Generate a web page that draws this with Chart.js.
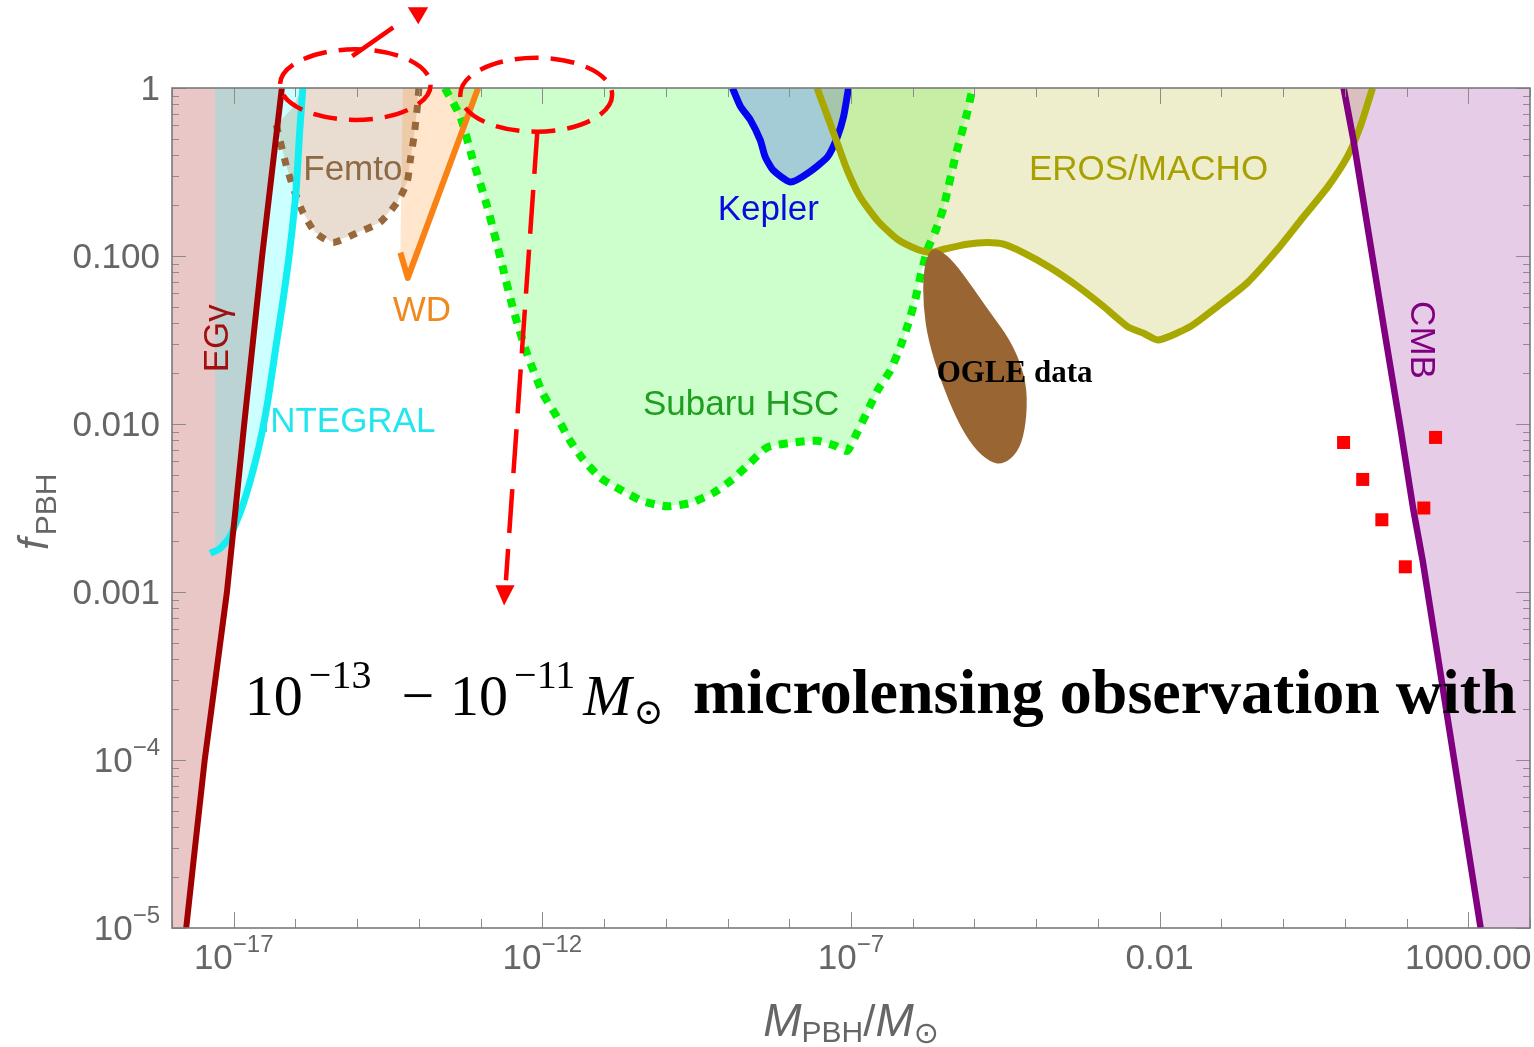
<!DOCTYPE html>
<html>
<head>
<meta charset="utf-8">
<script src="https://cdn.jsdelivr.net/npm/chart.js@4.4.1/dist/chart.umd.min.js"></script>
<style>
  html, body { margin: 0; padding: 0; background: #fff; overflow: hidden; }
  #wrap { width: 1534px; height: 1047px; }
  canvas { display: block; }
</style>
</head>
<body>
<div id="wrap"><canvas id="chart" width="1534" height="1047"></canvas></div>
<script>
// Points are [log10(M/Msun), log10(f_PBH)]
const egammaEdge = [[-17.77, -5], [-17.47, -4], [-17.11, -3], [-16.83, -2], [-16.54, -1], [-16.22, 0]];
const egammaCorners = [[-18, 0], [-18, -5]];

const integralEdge = [[-17.38, -2.77], [-17.22, -2.74], [-17.06, -2.67], [-16.85, -2.48], [-16.62, -2.18],
  [-16.46, -1.89], [-16.30, -1.50], [-16.20, -1.26], [-16.09, -0.96], [-15.99, -0.61], [-15.93, -0.25], [-15.88, 0]];
const integralCorners = [[-17.30, 0], [-17.30, -2.75]];

const femtoEdge = [[-16.31, -0.22], [-16.15, -0.46], [-16.04, -0.59], [-15.88, -0.74], [-15.68, -0.86], [-15.39, -0.92],
  [-14.99, -0.86], [-14.63, -0.80], [-14.35, -0.68], [-14.19, -0.56], [-14.14, -0.43], [-14.08, -0.29], [-14.03, -0.13], [-14.00, 0]];
const femtoCorners = [[-15.90, 0], [-16.05, -0.12]];

const wdEdge = [[-14.30, -0.98], [-14.18, -1.13], [-13.04, 0]];
const wdCorners = [[-14.26, 0]];

const subaruEdge = [[-13.58, 0], [-13.33, -0.17], [-13.14, -0.41], [-12.89, -0.71], [-12.64, -1.07], [-12.47, -1.32],
  [-12.25, -1.58], [-11.99, -1.82], [-11.76, -1.96], [-11.55, -2.10], [-11.34, -2.21], [-11.06, -2.32], [-10.74, -2.39],
  [-10.37, -2.46], [-9.98, -2.49], [-9.60, -2.47], [-9.23, -2.41], [-8.92, -2.33], [-8.63, -2.23], [-8.36, -2.14],
  [-7.94, -2.11], [-7.55, -2.10], [-7.25, -2.13], [-7.06, -2.16], [-6.90, -2.05], [-6.74, -1.93], [-6.57, -1.80],
  [-6.36, -1.68], [-6.20, -1.54], [-6.07, -1.40], [-5.96, -1.26], [-5.88, -1.13], [-5.76, -0.96], [-5.63, -0.85],
  [-5.50, -0.71], [-5.31, -0.41], [-5.12, -0.15], [-5.03, 0]];

const keplerEdge = [[-8.92, 0], [-8.79, -0.11], [-8.63, -0.19], [-8.47, -0.31], [-8.39, -0.41], [-8.26, -0.49],
  [-7.98, -0.56], [-7.71, -0.51], [-7.38, -0.41], [-7.22, -0.29], [-7.12, -0.17], [-7.04, 0]];

const erosEdge = [[-7.55, 0], [-7.38, -0.17], [-7.22, -0.33], [-7.06, -0.49], [-6.85, -0.65], [-6.57, -0.79],
  [-6.25, -0.90], [-5.93, -0.96], [-5.71, -0.98], [-5.50, -0.96], [-5.12, -0.93], [-4.79, -0.92], [-4.53, -0.93],
  [-4.21, -0.98], [-3.77, -1.07], [-3.33, -1.18], [-2.91, -1.30], [-2.52, -1.42], [-2.26, -1.46], [-2.02, -1.50],
  [-1.50, -1.42], [-1.06, -1.30], [-0.58, -1.16], [-0.09, -0.96], [0.28, -0.79], [0.72, -0.59], [1.04, -0.41],
  [1.25, -0.23], [1.45, 0]];

const ogleOutline = [[-5.63, -0.95], [-5.39, -1.01], [-5.12, -1.14], [-4.74, -1.34], [-4.42, -1.50], [-4.21, -1.68],
  [-4.14, -1.84], [-4.18, -2.04], [-4.30, -2.17], [-4.53, -2.24], [-4.74, -2.23], [-5.02, -2.14], [-5.28, -1.98],
  [-5.55, -1.74], [-5.75, -1.50], [-5.83, -1.30], [-5.83, -1.10], [-5.75, -0.98]];

const cmbEdge = [[0.98, 0], [1.14, -0.31], [1.37, -0.83], [1.63, -1.42], [1.90, -2.02], [2.11, -2.51], [2.26, -2.81], [3.20, -5]];
const cmbCorners = [[4, -5], [4, 0]];

const squaresLogM = [0.98, 1.29, 1.60, 1.98, 2.28, 2.47];
const squaresLogF = [-2.11, -2.33, -2.57, -2.85, -2.50, -2.08];

// axis ticks
const xTickExp = [-17, -12, -7, -2, 3];
const xTickText = [['10', '\u221217'], ['10', '\u221212'], ['10', '\u22127'], ['0.01', ''], ['1000.00', '']];
const yTickExp = [0, -1, -2, -3, -4, -5];
const yTickText = [['1', ''], ['0.100', ''], ['0.010', ''], ['0.001', ''], ['10', '\u22124'], ['10', '\u22125']];

const SANS = '"Liberation Sans", Arial, sans-serif';
const SERIF = '"Liberation Serif", "Times New Roman", serif';

const labels = [
  { text: 'EG\u03b3', lm: -17.25, lf: -1.49, color: '#a01010', rot: -90 },
  { text: 'INTEGRAL', lm: -15.15, lf: -1.99, color: '#22e6ee' },
  { text: 'Femto', lm: -15.07, lf: -0.49, color: '#8e6a44' },
  { text: 'WD', lm: -13.95, lf: -1.33, color: '#f08a20' },
  { text: 'Kepler', lm: -8.34, lf: -0.73, color: '#0a0ae0' },
  { text: 'Subaru HSC', lm: -8.78, lf: -1.89, color: '#1f9f1f' },
  { text: 'EROS/MACHO', lm: -2.18, lf: -0.49, color: '#a8a000' },
  { text: 'CMB', lm: 2.23, lf: -1.50, color: '#800080', rot: 90 },
  { text: 'OGLE data', lm: -4.35, lf: -1.70, color: '#000', font: 'bold 31px ' + SERIF }
];

// red annotation marks (centre and half-widths in decades)
const ellipses = [{ lm: -15.03, lf: 0.02, dm: 1.22, df: 0.21 }, { lm: -12.10, lf: -0.04, dm: 1.23, df: 0.22 }];
const arrows = [
  { path: [[-15.08, 0.19], [-14.30, 0.39]], dash: [50, 10], head: [[-14.18, 0.48], [-13.85, 0.48], [-14.01, 0.38]] },
  { path: [[-12.08, -0.25], [-12.59, -2.93]], dash: [44, 16], head: [[-12.76, -2.96], [-12.45, -2.96], [-12.62, -3.08]] }
];

const toXY = pts => pts.map(([lm, lf]) => ({ x: Math.pow(10, lm), y: Math.pow(10, lf) }));

function region(poly, color, extra) {
  return Object.assign({ data: toXY(poly), showLine: false, pointRadius: 0, region: true, regionColor: color }, extra);
}
function edge(pts, color, width, extra) {
  return Object.assign({
    data: toXY(pts), showLine: true, borderColor: color, borderWidth: width, pointRadius: 0,
    fill: false, tension: 0.2, borderCapStyle: 'butt', borderJoinStyle: 'round'
  }, extra);
}

const datasets = [
  region(egammaEdge.concat(egammaCorners), 'rgba(160, 0, 0, 0.22)'),
  region(integralEdge.slice(1).concat(integralCorners), 'rgba(0, 255, 255, 0.2)'),
  region(femtoEdge.concat(femtoCorners), 'rgba(153, 102, 51, 0.22)'),
  region(wdEdge.concat(wdCorners), 'rgba(255, 128, 0, 0.2)'),
  region(subaruEdge, 'rgba(0, 255, 0, 0.2)'),
  region(keplerEdge, 'rgba(0, 0, 255, 0.2)'),
  region(erosEdge, 'rgba(170, 170, 0, 0.2)'),
  region(cmbEdge.concat(cmbCorners), 'rgba(128, 0, 128, 0.2)'),
  region(ogleOutline, '#996633', { onTop: true, smooth: true }),

  {
    data: squaresLogM.map((m, i) => ({ x: Math.pow(10, m), y: Math.pow(10, squaresLogF[i]) })),
    showLine: false, pointStyle: 'rect', pointRadius: 9.2, backgroundColor: '#ff0000', borderWidth: 0, order: 0
  },
  edge(cmbEdge, '#800080', 6.5, { order: 1, tension: 0.1 }),
  edge(egammaEdge, '#a00000', 6, { order: 2, tension: 0.1 }),
  edge(integralEdge, '#12eef2', 7, { order: 3 }),
  edge(wdEdge, '#fa8214', 6, { order: 4, tension: 0 }),
  edge(erosEdge, '#a8a800', 7, { order: 5 }),
  edge(keplerEdge, '#0505f0', 7, { order: 6 }),
  edge(femtoEdge, '#96683a', 7, { order: 7, borderDash: [8, 9] }),
  edge(subaruEdge, '#00f000', 8, { order: 8, borderDash: [9, 8] })
];

function paintRegions(chart, top) {
  const { ctx, chartArea: a } = chart;
  chart.data.datasets.forEach((ds, i) => {
    if (!ds.region || !!ds.onTop !== top) return;
    const pts = chart.getDatasetMeta(i).data;
    ctx.save();
    ctx.beginPath();
    ctx.rect(a.left, a.top, a.width, a.height);
    ctx.clip();
    ctx.beginPath();
    if (ds.smooth) {
      const n = pts.length;
      const mid = (p, q) => [(p.x + q.x) / 2, (p.y + q.y) / 2];
      let m = mid(pts[n - 1], pts[0]);
      ctx.moveTo(m[0], m[1]);
      for (let k = 0; k < n; k++) {
        m = mid(pts[k], pts[(k + 1) % n]);
        ctx.quadraticCurveTo(pts[k].x, pts[k].y, m[0], m[1]);
      }
    } else {
      pts.forEach((p, k) => (k ? ctx.lineTo(p.x, p.y) : ctx.moveTo(p.x, p.y)));
    }
    ctx.closePath();
    ctx.fillStyle = ds.regionColor;
    ctx.fill();
    ctx.restore();
  });
}

const regionFill = {
  id: 'regionFill',
  beforeDatasetsDraw(chart) { paintRegions(chart, false); },
  afterDatasetsDraw(chart) { paintRegions(chart, true); }
};

function toPx(chart, lm, lf) {
  return [chart.scales.x.getPixelForValue(Math.pow(10, lm)), chart.scales.y.getPixelForValue(Math.pow(10, lf))];
}

function drawPow(ctx, base, exp, x, y, size, align) {
  const es = Math.round(size * 0.68);
  ctx.font = size + 'px ' + SANS;
  const wb = ctx.measureText(base).width;
  let we = 0;
  if (exp) { ctx.font = es + 'px ' + SANS; we = ctx.measureText(exp).width; }
  const x0 = align === 'right' ? x - wb - we : x - (wb + we) / 2;
  ctx.textAlign = 'left';
  ctx.textBaseline = 'middle';
  ctx.font = size + 'px ' + SANS;
  ctx.fillText(base, x0, y);
  if (exp) { ctx.font = es + 'px ' + SANS; ctx.fillText(exp, x0 + wb, y - size * 0.38); }
}

function drawFrame(chart) {
  const { ctx, chartArea: a } = chart;
  const xs = chart.scales.x, ys = chart.scales.y;
  ctx.save();
  ctx.strokeStyle = '#8c8c8c';
  ctx.lineWidth = 1;
  const seg = (x1, y1, x2, y2) => { ctx.beginPath(); ctx.moveTo(x1, y1); ctx.lineTo(x2, y2); ctx.stroke(); };
  for (let d = -18; d <= 4; d++) {
    const x = Math.round(xs.getPixelForValue(Math.pow(10, d))) + 0.5;
    const len = xTickExp.includes(d) ? 16 : 9;
    seg(x, a.bottom, x, a.bottom - len);
    seg(x, a.top, x, a.top + len);
  }
  for (let d = -5; d <= 0; d++) {
    for (let k = 1; k <= 9; k++) {
      const v = k * Math.pow(10, d);
      if (v > 1) break;
      const y = Math.round(ys.getPixelForValue(v)) + 0.5;
      const len = k === 1 ? 14 : 7;
      seg(a.left, y, a.left + len, y);
      seg(a.right, y, a.right - len, y);
    }
  }
  ctx.lineWidth = 1.6;
  ctx.strokeStyle = '#7a7a7a';
  ctx.strokeRect(a.left, a.top, a.width, a.height);

  ctx.fillStyle = '#666';
  xTickExp.forEach((d, i) => {
    drawPow(ctx, xTickText[i][0], xTickText[i][1], xs.getPixelForValue(Math.pow(10, d)), a.bottom + 31, 35, 'center');
  });
  yTickExp.forEach((d, i) => {
    drawPow(ctx, yTickText[i][0], yTickText[i][1], a.left - 12, ys.getPixelForValue(Math.pow(10, d)) + 2, 35, 'right');
  });

  // axis titles
  ctx.textAlign = 'left';
  ctx.textBaseline = 'alphabetic';
  ctx.save();
  ctx.translate(48, 550);
  ctx.rotate(-Math.PI / 2);
  ctx.font = 'italic 42px ' + SANS;
  const wf = ctx.measureText('f').width;
  ctx.fillText('f', 0, 0);
  ctx.font = '30px ' + SANS;
  ctx.fillText('PBH', wf + 3, 8);
  ctx.restore();

  const parts = [
    { t: 'M', f: 'italic 46px ' + SANS, dy: 0 },
    { t: 'PBH', f: '30px ' + SANS, dy: 6 },
    { t: '/', f: '44px ' + SANS, dy: 0 },
    { t: 'M', f: 'italic 46px ' + SANS, dy: 0 },
    { t: '\u2299', f: '30px "DejaVu Sans", ' + SANS, dy: 7 }
  ];
  let total = 0;
  parts.forEach(p => { ctx.font = p.f; p.w = ctx.measureText(p.t).width; total += p.w; });
  let x = (a.left + a.right) / 2 - total / 2;
  parts.forEach(p => { ctx.font = p.f; ctx.fillText(p.t, x, 1036 + p.dy); x += p.w; });
  ctx.restore();
}

function drawNotes(chart) {
  const { ctx } = chart;
  ctx.save();
  labels.forEach(l => {
    const [x, y] = toPx(chart, l.lm, l.lf);
    ctx.save();
    ctx.translate(x, y);
    if (l.rot) ctx.rotate(l.rot * Math.PI / 180);
    ctx.font = l.font || ('35px ' + SANS);
    ctx.fillStyle = l.color;
    ctx.textAlign = 'center';
    ctx.textBaseline = 'middle';
    ctx.fillText(l.text, 0, 0);
    ctx.restore();
  });

  // dashed red ellipses and arrows
  ctx.strokeStyle = '#ff0000';
  ctx.fillStyle = '#ff0000';
  ctx.lineWidth = 4.5;
  ctx.setLineDash([24, 12]);
  ellipses.forEach(e => {
    const [cx, cy] = toPx(chart, e.lm, e.lf);
    const [ex, ey] = toPx(chart, e.lm + e.dm, e.lf + e.df);
    ctx.beginPath();
    ctx.ellipse(cx, cy, Math.abs(ex - cx), Math.abs(cy - ey), 0, 0, Math.PI * 2);
    ctx.stroke();
  });
  arrows.forEach(ar => {
    ctx.setLineDash(ar.dash);
    ctx.beginPath();
    ar.path.forEach(([m, f], k) => { const [x, y] = toPx(chart, m, f); k ? ctx.lineTo(x, y) : ctx.moveTo(x, y); });
    ctx.stroke();
    ctx.setLineDash([]);
    ctx.beginPath();
    ar.head.forEach(([m, f], k) => { const [x, y] = toPx(chart, m, f); k ? ctx.lineTo(x, y) : ctx.moveTo(x, y); });
    ctx.closePath();
    ctx.fill();
  });

  // overlay caption
  ctx.fillStyle = '#000';
  ctx.textAlign = 'left';
  ctx.textBaseline = 'alphabetic';
  const [x0, base] = toPx(chart, -16.82, -3.73);
  const cap = [
    { t: '10', f: '58px ' + SERIF, dy: 0, gap: 6 },
    { t: '\u221213', f: '40px ' + SERIF, dy: -27, gap: 30 },
    { t: '\u2212', f: '58px ' + SERIF, dy: 0, gap: 16 },
    { t: '10', f: '58px ' + SERIF, dy: 0, gap: 6 },
    { t: '\u221211', f: '40px ' + SERIF, dy: -27, gap: 8 },
    { t: 'M', f: 'italic 58px ' + SERIF, dy: 0, gap: 2 },
    { t: '\u2299', f: '36px "DejaVu Serif", ' + SERIF, dy: 9, gap: 0 }
  ];
  let x = x0;
  cap.forEach(p => { ctx.font = p.f; ctx.fillText(p.t, x, base + p.dy); x += ctx.measureText(p.t).width + p.gap; });
  const [bx] = toPx(chart, -9.56, 0);
  ctx.font = 'bold 64px ' + SERIF;
  ctx.fillText('microlensing observation with', bx, base - 2);
  ctx.restore();
}

const overlay = {
  id: 'overlay',
  afterDraw(chart) { drawFrame(chart); drawNotes(chart); }
};

new Chart(document.getElementById('chart'), {
  type: 'scatter',
  data: { datasets },
  options: {
    responsive: false,
    animation: false,
    devicePixelRatio: 1,
    events: [],
    layout: { autoPadding: false, padding: { left: 172, right: 4, top: 88, bottom: 119 } },
    scales: {
      x: { type: 'logarithmic', min: 1e-18, max: 1e4, display: false },
      y: { type: 'logarithmic', min: 1e-5, max: 1, display: false }
    },
    plugins: { legend: { display: false }, tooltip: { enabled: false } }
  },
  plugins: [regionFill, overlay]
});
</script>
</body>
</html>
